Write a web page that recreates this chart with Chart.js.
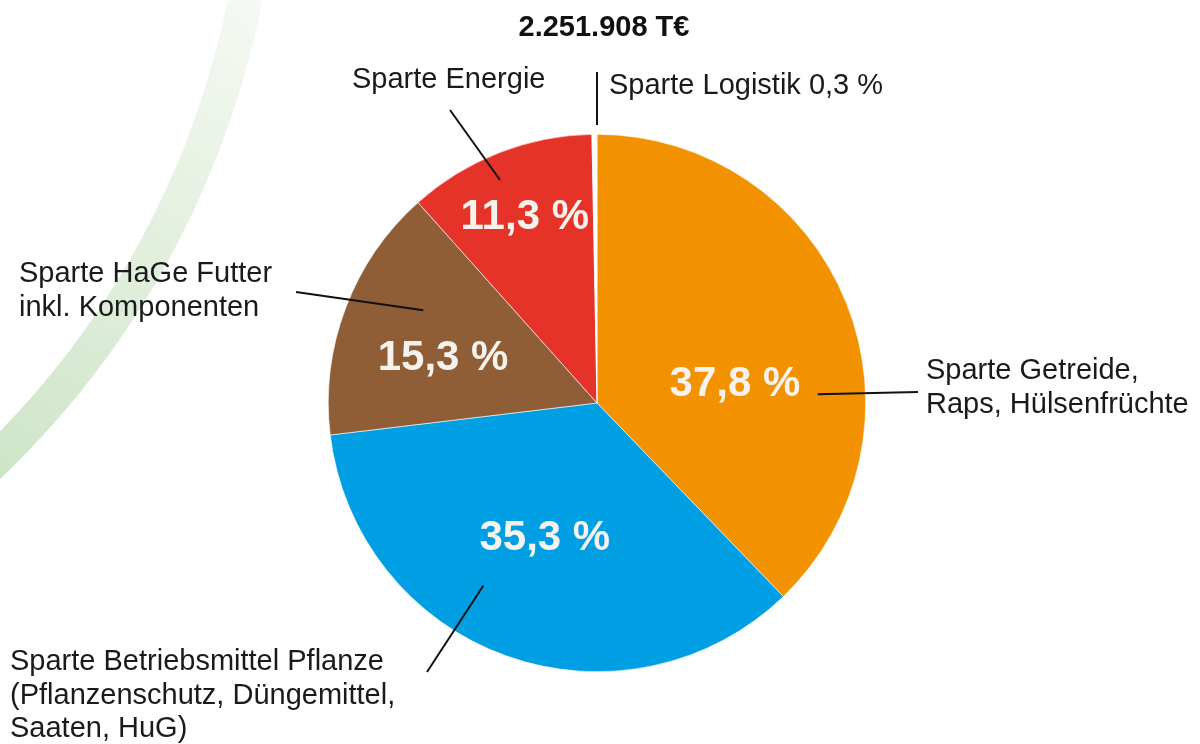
<!DOCTYPE html>
<html>
<head>
<meta charset="utf-8">
<title>Umsatz nach Sparten</title>
<script src="https://cdn.jsdelivr.net/npm/chart.js@4.4.1/dist/chart.umd.min.js"></script>
<style>
  html, body { margin: 0; padding: 0; background: #ffffff; }
  #wrap { width: 1200px; height: 744px; }
</style>
</head>
<body>
<div id="wrap"><canvas id="pieChart" width="1200" height="744"></canvas></div>
<script>
'use strict';
// data
var totalLabel = '2.251.908 T€';
var categories = ['Sparte Getreide, Raps, Hülsenfrüchte', 'Sparte Betriebsmittel Pflanze (Pflanzenschutz, Düngemittel, Saaten, HuG)', 'Sparte HaGe Futter inkl. Komponenten', 'Sparte Energie', 'Sparte Logistik'];
var shares = [37.8, 35.3, 15.3, 11.3, 0.3];
var sliceColors = ['#f39200', '#009fe3', '#8f5e36', '#e6332a', '#ffffff'];
var labelLines = [
    ['Sparte Getreide,', 'Raps, Hülsenfrüchte'],
    ['Sparte Betriebsmittel Pflanze', '(Pflanzenschutz, Düngemittel,', 'Saaten, HuG)'],
    ['Sparte HaGe Futter', 'inkl. Komponenten'],
    ['Sparte Energie'],
    ['Sparte Logistik']
];

function fmtPct(v) {
    return v.toFixed(1).replace('.', ',') + ' %';
}

// layout of annotations (angle in degrees from 12 o'clock, r as fraction of radius)
var pctPos = [{ a: 81, r: 0.52 }, { a: 201.5, r: 0.53 }, { a: 287.3, r: 0.6 }, { a: 339, r: 0.75 }, null];
var leaders = [
    { a: 87.7, r: 0.822, x: 918, y: 392, tx: 926, ty: 371 },
    { a: 211.9, r: 0.80, x: 427, y: 672, tx: 10, ty: 662 },
    { a: 298.1, r: 0.733, x: 296, y: 292, tx: 19, ty: 274 },
    { a: 0, r: 1.035, x: 597, y: 72, tx: 609, ty: 86 }
];
leaders.splice(3, 0, { a: 336.5, r: 0.905, x: 450, y: 110, tx: 352, ty: 80 });

var ctx = document.getElementById('pieChart');

var bgArc = {
    id: 'bgArc',
    beforeDraw: function (chart) {
        var c = chart.ctx;
        c.save();
        var g = c.createLinearGradient(0, 480, 260, 0);
        g.addColorStop(0, 'rgba(205,229,199,1)');
        g.addColorStop(0.5, 'rgba(226,239,221,1)');
        g.addColorStop(1, 'rgba(246,249,244,1)');
        c.strokeStyle = g;
        c.lineWidth = 34;
        c.beginPath();
        c.arc(-620, -172, 882, 0, Math.PI / 2);
        c.stroke();
        c.restore();
    }
};

var annotations = {
    id: 'annotations',
    afterDraw: function (chart) {
        var c = chart.ctx;
        var arcs = chart.getDatasetMeta(0).data;
        var cx = arcs[0].x, cy = arcs[0].y, R = arcs[0].outerRadius;
        function polar(a, r) {
            var t = a * Math.PI / 180;
            return { x: cx + r * R * Math.sin(t), y: cy - r * R * Math.cos(t) };
        }
        c.save();
        // title
        c.fillStyle = '#111111';
        c.font = 'bold 29px "Liberation Sans", Arial, sans-serif';
        c.textAlign = 'center';
        c.textBaseline = 'middle';
        c.fillText(totalLabel, 604, 28);

        // percent labels in slices
        c.fillStyle = '#f6f3ee';
        c.font = 'bold 42px "Liberation Sans", Arial, sans-serif';
        shares.forEach(function (v, i) {
            if (!pctPos[i]) return;
            var p = polar(pctPos[i].a, pctPos[i].r);
            c.fillText(fmtPct(v), p.x, p.y + 3);
        });

        // leader lines and outer labels
        c.strokeStyle = '#111111';
        c.lineWidth = 2;
        c.fillStyle = '#1a1a1a';
        c.font = '29px "Liberation Sans", Arial, sans-serif';
        c.textAlign = 'left';
        leaders.forEach(function (l, i) {
            var p = polar(l.a, l.r);
            c.beginPath();
            c.moveTo(p.x, p.y);
            c.lineTo(l.x, l.y);
            c.stroke();
            var lines = labelLines[i].slice();
            if (i === 4) lines[0] = lines[0] + ' ' + fmtPct(shares[i]);
            lines.forEach(function (t, k) {
                c.fillText(t, l.tx, l.ty + k * 33.5);
            });
        });
        c.restore();
    }
};

var pieChart = new Chart(ctx, {
    type: 'pie',
    data: {
        labels: categories,
        datasets: [{
            data: shares,
            backgroundColor: sliceColors,
            borderColor: '#ffffff',
            borderWidth: 0.6
        }]
    },
    options: {
        responsive: false,
        animation: false,
        layout: { padding: { top: 134, bottom: 72, left: 328, right: 334 } },
        plugins: {
            legend: { display: false },
            tooltip: { enabled: false },
            title: { display: false }
        }
    },
    plugins: [bgArc, annotations]
});
</script>
</body>
</html>
